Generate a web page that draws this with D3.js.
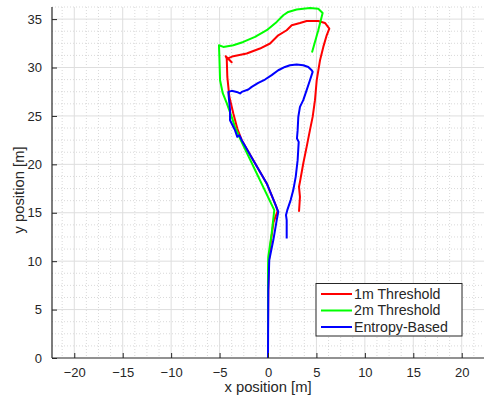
<!DOCTYPE html>
<html>
<head>
<meta charset="utf-8">
<script src="https://cdn.jsdelivr.net/npm/d3@7"></script>
<style>
  body { margin: 0; background: #fff; }
  svg text { font-family: "Liberation Sans", Arial, sans-serif; fill: #262626; }
</style>
</head>
<body>
<svg id="chart" width="488" height="400"></svg>
<script>
/* ---- data (x, y in metres) ---- */
const seriesNames = ["1m Threshold", "2m Threshold", "Entropy-Based"];
const seriesColors = ["#ff0000", "#00ff00", "#0000ff"];

const red1m = [
  [0, 0], [0, 2.89], [0.03, 7.02], [0.10, 10.11], [0.31, 12.18], [0.57, 14.04],
  [1.00, 15.20], [0.83, 15.69], [-0.13, 18.03], [-1.52, 20.43], [-2.71, 22.50],
  [-3.17, 23.70], [-3.58, 25.25], [-3.99, 26.97], [-4.20, 29.03], [-4.26, 30.93],
  [-4.37, 31.17], [-3.75, 30.55], [-4.15, 30.95], [-3.58, 31.17], [-2.20, 31.45],
  [-0.83, 31.96], [0.21, 32.48], [1.06, 33.33], [1.93, 33.85], [2.45, 34.37],
  [3.30, 34.60], [3.99, 34.81], [5.19, 34.81], [5.88, 34.60], [6.33, 34.02],
  [6.06, 33.33], [5.71, 32.13], [5.37, 30.75], [5.03, 28.69], [4.85, 26.63],
  [4.61, 24.90], [4.33, 23.53], [3.99, 21.81], [3.64, 20.09], [3.30, 18.19],
  [3.20, 17.68], [3.30, 16.65], [3.20, 15.10]
];

const green2m = [
  [0, 0], [0, 5.99], [0, 9.08], [0.03, 10.45], [0.38, 12.87], [0.65, 15.27],
  [-2.89, 22.67], [-3.41, 23.87], [-3.75, 24.90], [-4.26, 26.32], [-4.67, 27.35],
  [-4.95, 28.69], [-5.01, 30.75], [-5.06, 32.30], [-4.61, 32.13], [-3.58, 32.30],
  [-2.55, 32.64], [-1.34, 33.16], [-0.13, 33.85], [0.90, 34.71], [1.58, 35.40],
  [2.09, 35.74], [2.96, 35.99], [4.33, 36.15], [5.19, 36.07], [5.64, 35.63],
  [5.19, 33.85], [4.54, 31.55]
];

const blueEntropy = [
  [0, 0], [0.03, 7.02], [0.13, 10.11], [0.55, 12.18], [0.90, 14.24], [1.06, 15.10],
  [0.72, 15.96], [-0.13, 18.03], [-1.52, 20.43], [-2.71, 22.50], [-2.96, 23.01],
  [-3.17, 22.84], [-3.41, 23.53], [-3.92, 24.56], [-3.92, 25.59], [-4.10, 27.48],
  [-3.75, 27.59], [-3.23, 27.48], [-2.89, 27.32], [-2.71, 27.48], [-2.03, 27.73],
  [-1.68, 28.00], [-1.00, 28.41], [-0.31, 28.76], [0.38, 29.21], [1.06, 29.72],
  [1.75, 30.06], [2.27, 30.24], [2.96, 30.31], [3.64, 30.24], [4.16, 30.06],
  [4.51, 29.72], [4.61, 29.55], [4.33, 28.69], [3.99, 27.66], [3.64, 26.63],
  [3.30, 25.93], [3.13, 24.90], [3.06, 23.53], [2.99, 22.67], [3.17, 22.32],
  [3.06, 20.43], [2.86, 18.71], [2.61, 17.34], [2.34, 16.31], [1.99, 15.27],
  [1.86, 14.76], [1.93, 14.24], [1.93, 12.35]
];

const xTicks = [-20, -15, -10, -5, 0, 5, 10, 15, 20];
const yTicks = [0, 5, 10, 15, 20, 25, 30, 35];

/* ---- layout ---- */
const svg = d3.select("#chart");
const plotLeft = 52, plotRight = 484, plotTop = 7, plotBottom = 358;

const x = d3.scaleLinear().domain([-22.3, 22.3]).range([plotLeft, plotRight]);
const y = d3.scaleLinear().domain([0, 36.25]).range([plotBottom, plotTop]);

/* ---- grid ---- */
const grid = svg.append("g");
const xMinor = d3.range(-21.25, 22.3, 1.25).filter(v => Math.abs(v % 5) > 1e-6);
const yMinor = d3.range(1.25, 36.3, 1.25).filter(v => Math.abs(v % 5) > 1e-6);

grid.selectAll(".xminor").data(xMinor).enter().append("line")
    .attr("x1", d => x(d)).attr("x2", d => x(d))
    .attr("y1", plotTop).attr("y2", plotBottom)
    .attr("stroke", "#cfcfcf").attr("stroke-width", 0.8)
    .attr("stroke-dasharray", "1,2");
grid.selectAll(".yminor").data(yMinor).enter().append("line")
    .attr("y1", d => y(d)).attr("y2", d => y(d))
    .attr("x1", plotLeft).attr("x2", plotRight)
    .attr("stroke", "#cfcfcf").attr("stroke-width", 0.8)
    .attr("stroke-dasharray", "1,2");

grid.selectAll(".xmajor").data(xTicks).enter().append("line")
    .attr("x1", d => x(d)).attr("x2", d => x(d))
    .attr("y1", plotTop).attr("y2", plotBottom)
    .attr("stroke", "#dedede").attr("stroke-width", 1);
grid.selectAll(".ymajor").data(yTicks.filter(v => v > 0)).enter().append("line")
    .attr("y1", d => y(d)).attr("y2", d => y(d))
    .attr("x1", plotLeft).attr("x2", plotRight)
    .attr("stroke", "#dedede").attr("stroke-width", 1);

/* ---- lines ---- */
const line = d3.line().x(d => x(d[0])).y(d => y(d[1]));
const allSeries = [red1m, green2m, blueEntropy];

svg.append("g").selectAll("path").data(allSeries).enter().append("path")
    .attr("d", line)
    .attr("fill", "none")
    .attr("stroke", (d, i) => seriesColors[i])
    .attr("stroke-width", 2)
    .attr("stroke-linejoin", "round");

/* ---- axes ---- */
const xAxis = d3.axisBottom(x).tickValues(xTicks).tickSizeInner(-5).tickSizeOuter(0).tickPadding(10);
const yAxis = d3.axisLeft(y).tickValues(yTicks).tickSizeInner(-5).tickSizeOuter(0).tickPadding(10);

const gx = svg.append("g").attr("transform", `translate(0,${plotBottom})`).call(xAxis);
const gy = svg.append("g").attr("transform", `translate(${plotLeft},0)`).call(yAxis);

[gx, gy].forEach(g => {
    g.select(".domain").attr("stroke", "#262626").attr("stroke-width", 1.2);
    g.selectAll(".tick line").attr("stroke", "#262626");
    g.selectAll(".tick text").attr("font-size", 13).attr("fill", "#262626")
        .attr("font-family", "Liberation Sans, Arial, sans-serif");
});
gy.select(".domain").attr("d", `M0,${plotBottom}V${plotTop}`);
gx.select(".domain").attr("d", `M${plotLeft},0H${plotRight}`);

/* ---- axis labels ---- */
svg.append("text")
    .attr("x", (plotLeft + plotRight) / 2).attr("y", 392)
    .attr("text-anchor", "middle").attr("font-size", 14.8)
    .text("x position [m]");

svg.append("text")
    .attr("transform", `translate(24,190) rotate(-90)`)
    .attr("text-anchor", "middle").attr("font-size", 14.8)
    .text("y position [m]");

/* ---- legend ---- */
const legend = svg.append("g").attr("transform", "translate(316,283.5)");
legend.append("rect")
    .attr("width", 146).attr("height", 52.5)
    .attr("fill", "#fff").attr("stroke", "#262626").attr("stroke-width", 1);

const items = legend.selectAll(".item").data(seriesNames).enter().append("g")
    .attr("transform", (d, i) => `translate(0,${10.5 + i * 16.5})`);
items.append("line")
    .attr("x1", 5).attr("x2", 36)
    .attr("stroke", (d, i) => seriesColors[i]).attr("stroke-width", 2);
items.append("text")
    .attr("x", 38).attr("dy", "0.35em")
    .attr("font-size", 14.2)
    .text(d => d);
</script>
</body>
</html>
